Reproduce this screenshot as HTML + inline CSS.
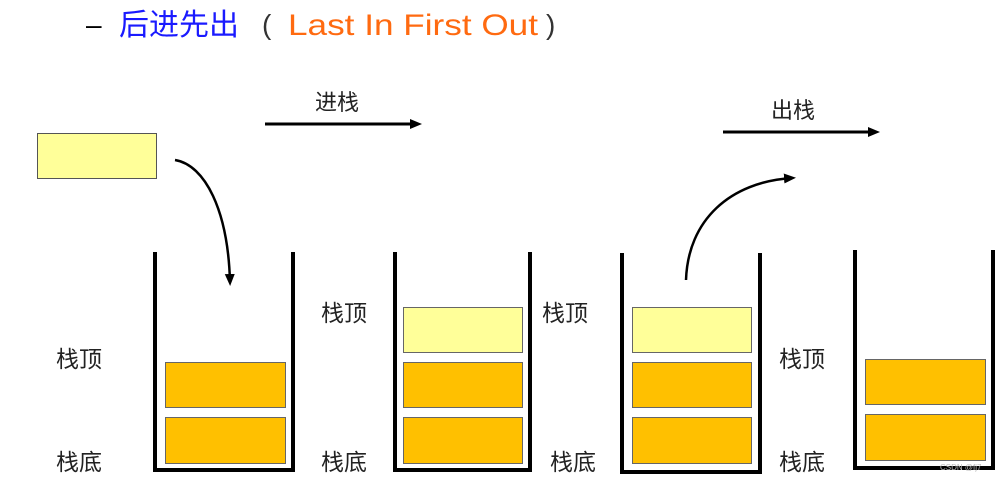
<!DOCTYPE html>
<html><head><meta charset="utf-8"><style>
html,body{margin:0;padding:0;background:#fff;}
svg{display:block;}
text{font-family:"Liberation Sans","Noto Sans CJK SC",sans-serif;}
</style></head><body>
<svg width="1006" height="483" viewBox="0 0 1006 483" xmlns="http://www.w3.org/2000/svg">
<defs>
<marker id="ah" markerWidth="12" markerHeight="12" refX="8" refY="6" orient="auto" markerUnits="userSpaceOnUse">
<path d="M0,1 L12,6 L0,11 z" fill="#000"/>
</marker>
</defs>
<!-- title -->
<text x="86" y="34" font-size="28" fill="#000">–</text>
<text x="119" y="35" font-size="30" fill="#1a1aff">后进先出</text>
<text x="262" y="34" font-size="28" fill="#333">(</text>
<text x="288" y="35" font-size="30" fill="#ff6a10" textLength="250" lengthAdjust="spacingAndGlyphs">Last In First Out</text>
<text x="546" y="34" font-size="28" fill="#333">)</text>

<!-- incoming block -->
<rect x="37.5" y="133.5" width="119" height="45" fill="#ffff99" stroke="#555" stroke-width="1"/>

<!-- arrows -->
<text x="315" y="110" font-size="22" fill="#222">进栈</text>
<line x1="265" y1="124" x2="418" y2="124" stroke="#000" stroke-width="3" marker-end="url(#ah)"/>
<text x="771" y="118" font-size="22" fill="#222">出栈</text>
<line x1="723" y1="132" x2="876" y2="132" stroke="#000" stroke-width="3" marker-end="url(#ah)"/>

<path d="M175,160 C205,165 228,210 230,282" fill="none" stroke="#000" stroke-width="2.5" marker-end="url(#ah)"/>
<path d="M686,280 C688,220 730,182 792,178" fill="none" stroke="#000" stroke-width="2.5" marker-end="url(#ah)"/>

<!-- stacks -->
<g fill="none" stroke="#000" stroke-width="4">
<path d="M155,252 V470 H293 V252"/>
<path d="M395,252 V470 H530 V252"/>
<path d="M622,253 V472 H760 V253"/>
<path d="M855,250 V468 H993 V250"/>
</g>

<g stroke="#666" stroke-width="1">
<rect x="165.5" y="362.5" width="120" height="45" fill="#ffc000"/>
<rect x="165.5" y="417.5" width="120" height="46" fill="#ffc000"/>
<rect x="403.5" y="307.5" width="119" height="45" fill="#ffff99"/>
<rect x="403.5" y="362.5" width="119" height="45" fill="#ffc000"/>
<rect x="403.5" y="417.5" width="119" height="46" fill="#ffc000"/>
<rect x="632.5" y="307.5" width="119" height="45" fill="#ffff99"/>
<rect x="632.5" y="362.5" width="119" height="45" fill="#ffc000"/>
<rect x="632.5" y="417.5" width="119" height="46" fill="#ffc000"/>
<rect x="865.5" y="359.5" width="120" height="45" fill="#ffc000"/>
<rect x="865.5" y="414.5" width="120" height="46" fill="#ffc000"/>
</g>

<!-- labels -->
<g font-size="23" fill="#222">
<text x="56" y="367">栈顶</text>
<text x="56" y="470">栈底</text>
<text x="321" y="321">栈顶</text>
<text x="321" y="470">栈底</text>
<text x="542" y="321">栈顶</text>
<text x="550" y="470">栈底</text>
<text x="779" y="367">栈顶</text>
<text x="779" y="470">栈底</text>
</g>
<text x="940" y="470" font-size="8" fill="#bbb">CSDN @fj7</text>
</svg>
</body></html>
